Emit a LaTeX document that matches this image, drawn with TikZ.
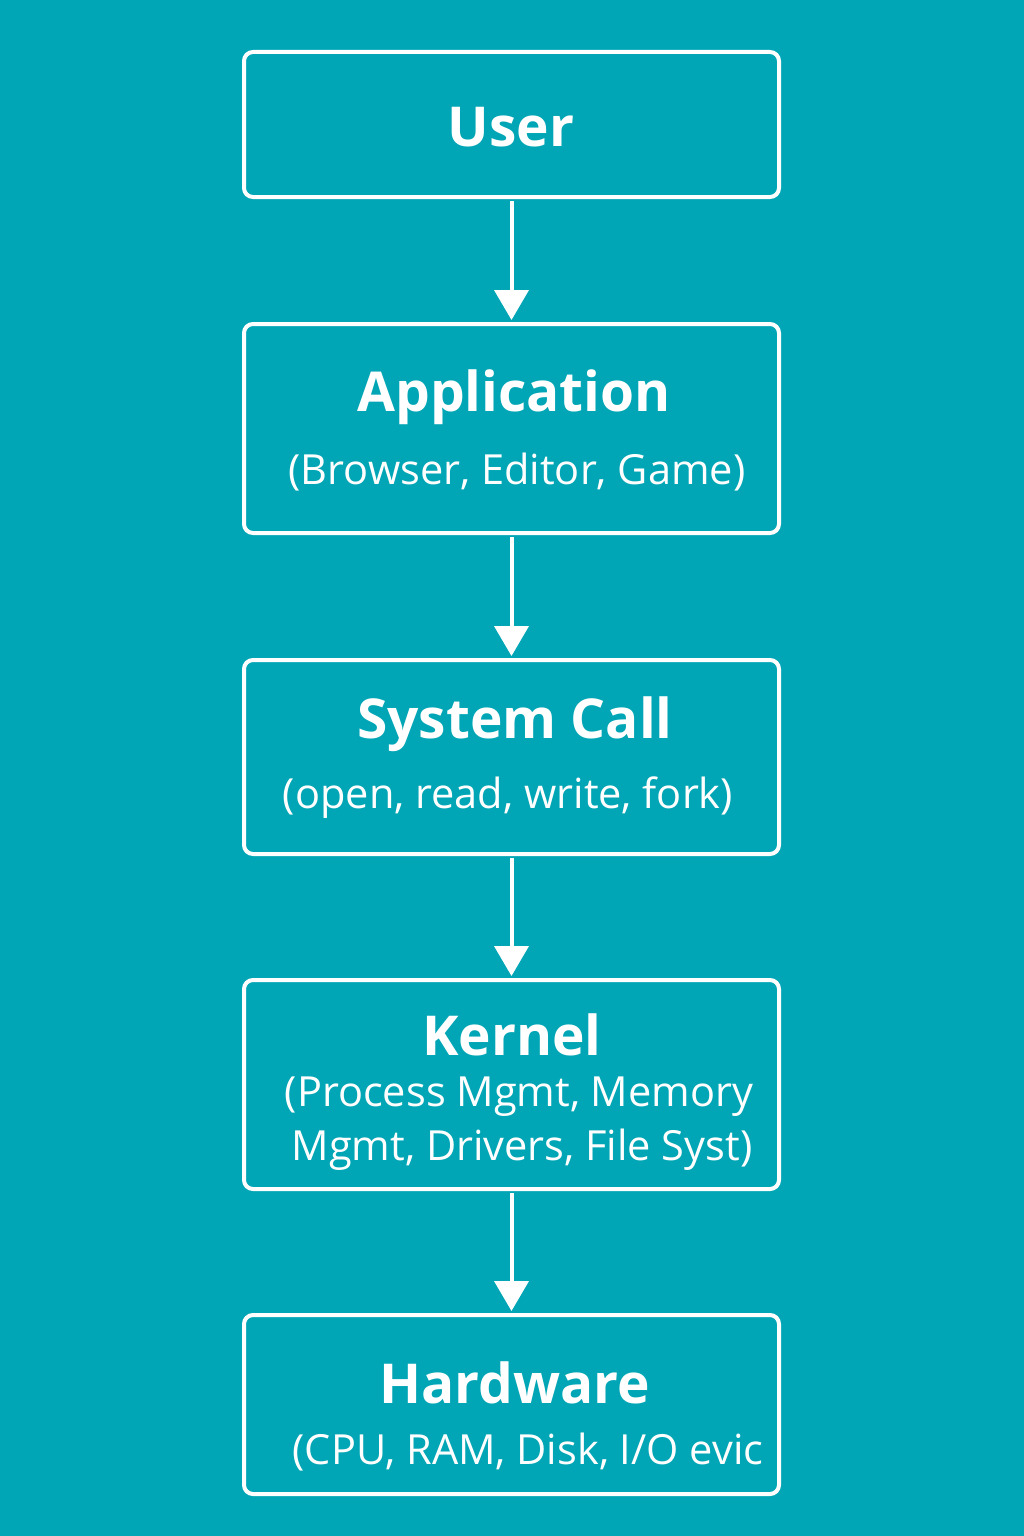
\documentclass[tikz,border=0pt]{standalone}
\usepackage{fontspec}
\setmainfont{Open Sans}
\usetikzlibrary{arrows.meta}
\definecolor{bgteal}{RGB}{0,166,181}
\newcommand{\titlefont}{\fontsize{55}{62}\selectfont\bfseries}
\newcommand{\subfont}{\fontsize{41.5}{53}\selectfont}

\begin{document}
\begin{tikzpicture}[x=1pt, y=-1pt,
	layerbox/.style={draw=white, line width=4pt, rounded corners=9pt, minimum width=535pt, inner sep=0pt},
	flow/.style={draw=white, line width=4pt, -{Triangle[width=34pt,length=30pt]}},
	label/.style={text=white, inner sep=0pt, anchor=center}]
		%%%%% START %%%%%
		
		\fill[bgteal] (0, 0) rectangle (1024, 1536);
		\useasboundingbox (0, 0) rectangle (1024, 1536);
		
		\node[layerbox, minimum height=145pt] (user) at (511.5, 124.5) {};
		\node[layerbox, minimum height=209pt] (app) at (511.5, 428.5) {};
		\node[layerbox, minimum height=194pt] (sys) at (511.5, 757) {};
		\node[layerbox, minimum height=209pt] (kern) at (511.5, 1084.5) {};
		\node[layerbox, minimum height=179pt] (hw) at (511.5, 1404.5) {};
		
		\node[label] (usertitle) at (511, 127) {\titlefont User};
		
		\node[label] (apptitle) at (514, 397) {\titlefont Application};
		\node[label] (appsub) at (517, 472) {\subfont (Browser, Editor, Game)};
		
		\node[label] (systitle) at (515, 724) {\titlefont System Call};
		\node[label] (syssub) at (508, 798) {\subfont (open, read, write, fork)};
		
		\node[label] (kerntitle) at (512, 1035) {\titlefont Kernel};
		\node[label] (kernsubA) at (519, 1097) {\subfont (Process Mgmt, Memory};
		\node[label] (kernsubB) at (522, 1150) {\subfont Mgmt, Drivers, File Syst)};
		
		\node[label] (hwtitle) at (515, 1383) {\titlefont Hardware};
		\node[label] (hwsub) at (528, 1452) {\subfont (CPU, RAM, Disk, I/O evic};
		
		\draw[flow] ([yshift=-2pt]user.south) -- ([yshift=2pt]app.north);
		\draw[flow] ([yshift=-2pt]app.south) -- ([yshift=2pt]sys.north);
		\draw[flow] ([yshift=-2pt]sys.south) -- ([yshift=2pt]kern.north);
		\draw[flow] ([yshift=-2pt]kern.south) -- ([yshift=2pt]hw.north);
		
		%%%%% END %%%%%
	\end{tikzpicture}
\end{document}
